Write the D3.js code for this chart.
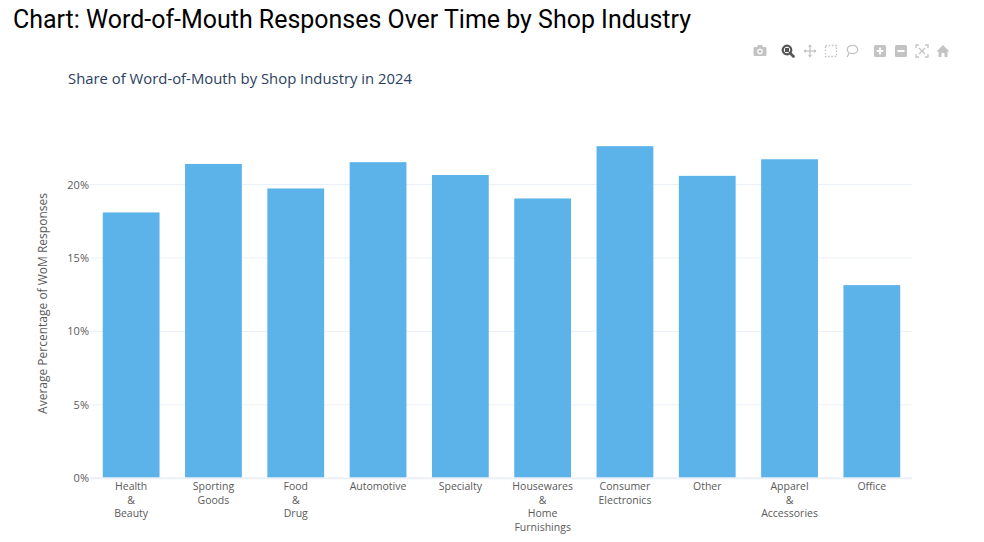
<!DOCTYPE html>
<html>
<head>
<meta charset="utf-8">
<script src="https://cdn.jsdelivr.net/npm/d3@7"></script>
<style>
  html, body { margin: 0; padding: 0; background: #fff; }
  svg { display: block; }
</style>
</head>
<body>
<svg id="chart" width="984" height="542"></svg>
<script>
const categories = [
  "Health & Beauty", "Sporting Goods", "Food & Drug", "Automotive", "Specialty",
  "Housewares & Home Furnishings", "Consumer Electronics", "Other", "Apparel & Accessories", "Office"
];
const categoryLines = [
  ["Health", "&", "Beauty"],
  ["Sporting", "Goods"],
  ["Food", "&", "Drug"],
  ["Automotive"],
  ["Specialty"],
  ["Housewares", "&", "Home", "Furnishings"],
  ["Consumer", "Electronics"],
  ["Other"],
  ["Apparel", "&", "Accessories"],
  ["Office"]
];
const values = [18.10, 21.40, 19.73, 21.52, 20.65, 19.05, 22.61, 20.59, 21.72, 13.15];
const yTicks = [0, 5, 10, 15, 20];

const svg = d3.select("#chart");
const plotLeft = 90, plotRight = 913, plotTop = 128.7, plotBottom = 478.3;

const x = d3.scaleBand().domain(categories).range([plotLeft, plotRight]).paddingInner(0.31).paddingOuter(0.155);
const y = d3.scaleLinear().domain([0, 23.8]).range([plotBottom, plotTop]);

// Main title
svg.append("text")
  .attr("x", 13).attr("y", 28)
  .attr("font-family", "Roboto, 'Noto Sans', sans-serif")
  .attr("font-size", 25)
  .attr("font-weight", 400)
  .attr("fill", "#000")
  .attr("textLength", 678)
  .attr("lengthAdjust", "spacingAndGlyphs")
  .text("Chart: Word-of-Mouth Responses Over Time by Shop Industry");

// Subtitle
svg.append("text")
  .attr("x", 68).attr("y", 84)
  .attr("font-family", "'Open Sans', sans-serif")
  .attr("font-size", 15)
  .attr("fill", "#2a3f5f")
  .attr("textLength", 344)
  .attr("lengthAdjust", "spacingAndGlyphs")
  .text("Share of Word-of-Mouth by Shop Industry in 2024");

// Gridlines
const grid = svg.append("g");
grid.selectAll("line").data(yTicks.filter(d => d !== 0)).join("line")
  .attr("x1", plotLeft).attr("x2", plotRight - 1)
  .attr("y1", d => y(d)).attr("y2", d => y(d))
  .attr("stroke", "#EBF0F8").attr("stroke-width", 1);

// Bars
svg.append("g").selectAll("rect").data(categories).join("rect")
  .attr("x", d => x(d))
  .attr("width", x.bandwidth())
  .attr("y", (d, i) => y(values[i]))
  .attr("height", (d, i) => y(0) - y(values[i]))
  .attr("fill", "#5BB3EA");

// Zero line
svg.append("line")
  .attr("x1", plotLeft).attr("x2", plotRight - 1)
  .attr("y1", y(0)).attr("y2", y(0))
  .attr("stroke", "#EBF0F8").attr("stroke-width", 2);

// Y axis
const yAxis = d3.axisLeft(y).tickValues(yTicks).tickFormat(d => d + "%").tickSize(0).tickPadding(0);
const yg = svg.append("g").attr("transform", `translate(${plotLeft - 1},0)`).call(yAxis);
yg.select(".domain").remove();
yg.selectAll("text")
  .attr("font-family", "'Open Sans', sans-serif")
  .attr("font-size", 11)
  .attr("fill", "#5a5a5a");

// X axis
const xAxis = d3.axisBottom(x).tickSize(0).tickFormat("");
const xg = svg.append("g").attr("transform", `translate(0,${plotBottom})`).call(xAxis);
xg.select(".domain").remove();
xg.selectAll(".tick").each(function(d, i) {
  const t = d3.select(this).append("text")
    .attr("text-anchor", "middle")
    .attr("font-family", "'Open Sans', sans-serif")
    .attr("font-size", 10.5)
    .attr("fill", "#5a5a5a");
  categoryLines[i].forEach((ln, j) => {
    t.append("tspan").attr("x", 0).attr("y", 12 + j * 13.6).text(ln);
  });
});

// Y axis title
svg.append("text")
  .attr("transform", `translate(47,${(plotTop + plotBottom) / 2}) rotate(-90)`)
  .attr("text-anchor", "middle")
  .attr("font-family", "'Open Sans', sans-serif")
  .attr("font-size", 12)
  .attr("fill", "#5a5a5a")
  .text("Average Percentage of WoM Responses");

// Modebar icons
const mb = svg.append("g");
const gcol = "#c3c3c3";
(function(){
  const g = mb.append("g").attr("transform", "translate(760,51)");
  g.append("rect").attr("x", -6.5).attr("y", -4).attr("width", 13).attr("height", 9).attr("rx", 1.5).attr("fill", gcol);
  g.append("rect").attr("x", -2.5).attr("y", -6).attr("width", 5).attr("height", 3).attr("fill", gcol);
  g.append("circle").attr("cx", 0).attr("cy", 0.5).attr("r", 2.8).attr("fill", "#fff");
  g.append("circle").attr("cx", 0).attr("cy", 0.5).attr("r", 1.6).attr("fill", gcol);
})();
(function(){
  const g = mb.append("g").attr("transform", "translate(788,51)");
  g.append("circle").attr("cx", -1).attr("cy", -1).attr("r", 4.3).attr("fill", "none").attr("stroke", "#555").attr("stroke-width", 2.2);
  g.append("line").attr("x1", 2).attr("y1", 2).attr("x2", 5.5).attr("y2", 5.5).attr("stroke", "#555").attr("stroke-width", 2.6).attr("stroke-linecap", "round");
  g.append("rect").attr("x", -3).attr("y", -3).attr("width", 4).attr("height", 4).attr("fill", "#555");
})();
(function(){
  const g = mb.append("g").attr("transform", "translate(810,51)");
  g.append("line").attr("x1", -6).attr("x2", 6).attr("y1", 0).attr("y2", 0).attr("stroke", gcol).attr("stroke-width", 1.3);
  g.append("line").attr("y1", -6).attr("y2", 6).attr("x1", 0).attr("x2", 0).attr("stroke", gcol).attr("stroke-width", 1.3);
  g.append("path").attr("d", "M-6.5,0 L-4,-2 L-4,2Z M6.5,0 L4,-2 L4,2Z M0,-6.5 L-2,-4 L2,-4Z M0,6.5 L-2,4 L2,4Z").attr("fill", gcol);
})();
mb.append("rect").attr("x", 825.5).attr("y", 45.5).attr("width", 11).attr("height", 11)
  .attr("fill", "none").attr("stroke", gcol).attr("stroke-width", 1.3).attr("stroke-dasharray", "1.6,1.6");
(function(){
  const g = mb.append("g").attr("transform", "translate(852,50)");
  g.append("ellipse").attr("cx", 0.5).attr("cy", -0.5).attr("rx", 5.2).attr("ry", 4.2).attr("fill", "none").attr("stroke", gcol).attr("stroke-width", 1.3);
  g.append("path").attr("d", "M-3,3 Q-4,6 -5,7").attr("fill", "none").attr("stroke", gcol).attr("stroke-width", 1.3);
})();
[[880, true], [901, false]].forEach(([cx, plus]) => {
  const g = mb.append("g").attr("transform", `translate(${cx},51)`);
  g.append("rect").attr("x", -6).attr("y", -6).attr("width", 12).attr("height", 12).attr("rx", 1.5).attr("fill", gcol);
  g.append("line").attr("x1", -3.5).attr("x2", 3.5).attr("y1", 0).attr("y2", 0).attr("stroke", "#fff").attr("stroke-width", 2);
  if (plus) g.append("line").attr("y1", -3.5).attr("y2", 3.5).attr("x1", 0).attr("x2", 0).attr("stroke", "#fff").attr("stroke-width", 2);
});
(function(){
  const g = mb.append("g").attr("transform", "translate(922,51)");
  g.append("path").attr("d", "M-6,-3 V-6 H-3 M3,-6 H6 V-3 M6,3 V6 H3 M-3,6 H-6 V3")
    .attr("fill", "none").attr("stroke", gcol).attr("stroke-width", 1.3);
  g.append("path").attr("d", "M-3,-3 L3,3 M3,-3 L-3,3").attr("stroke", gcol).attr("stroke-width", 1.3);
})();
(function(){
  const g = mb.append("g").attr("transform", "translate(943,51)");
  g.append("path").attr("d", "M0,-6 L6.5,0.5 L4.5,0.5 L4.5,6 L1.5,6 L1.5,2 L-1.5,2 L-1.5,6 L-4.5,6 L-4.5,0.5 L-6.5,0.5 Z").attr("fill", gcol);
})();
</script>
</body>
</html>
